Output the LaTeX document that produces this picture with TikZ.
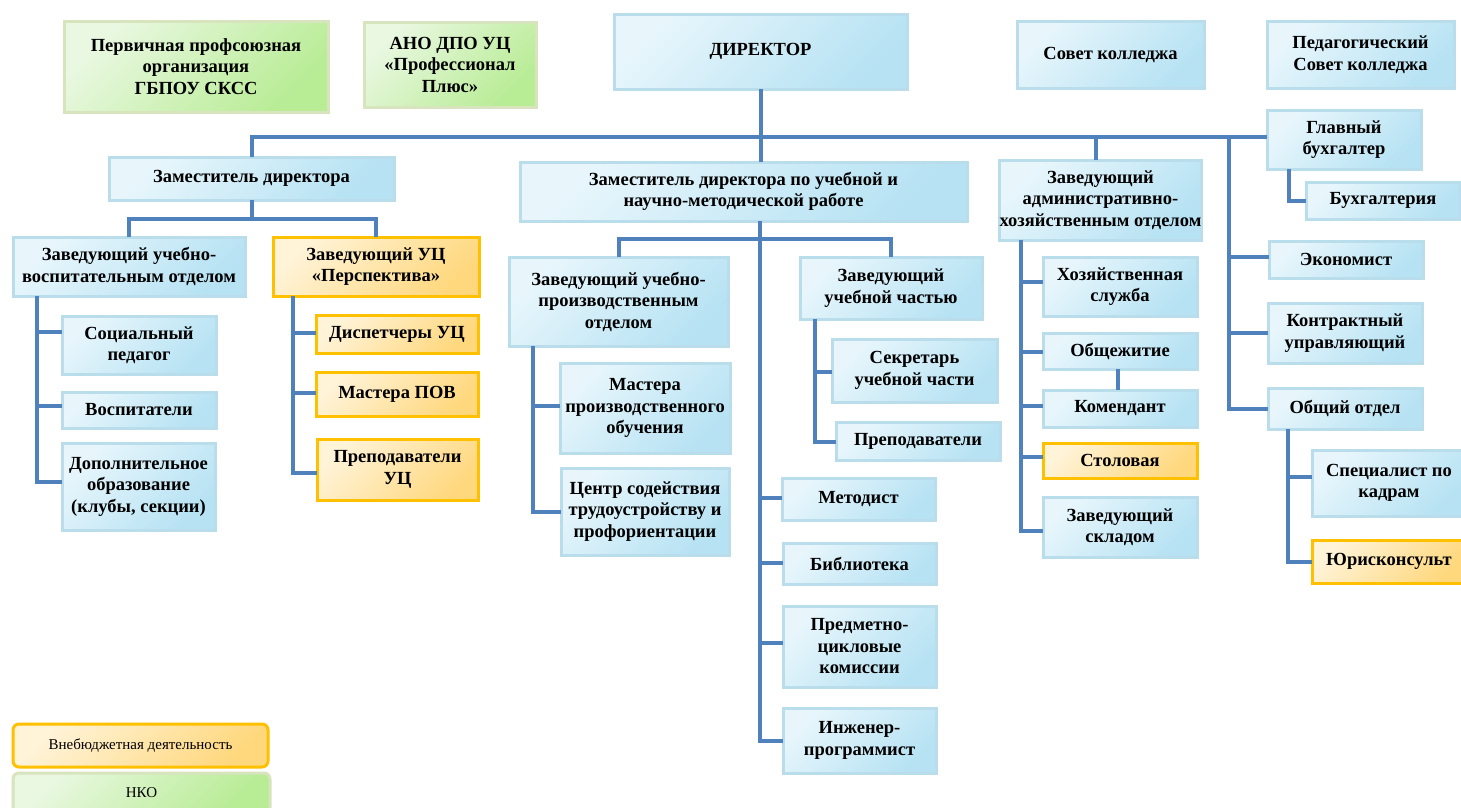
\documentclass[tikz,border=0pt]{standalone}
\usepackage{fontspec}
\setmainfont{Liberation Serif}
\definecolor{lineblue}{HTML}{4F81BD}
\definecolor{bA}{HTML}{E8F6FC}
\definecolor{bB}{HTML}{B6E2F3}
\definecolor{bD}{HTML}{B9DDEA}
\definecolor{oA}{HTML}{FFF3D8}
\definecolor{oB}{HTML}{FFD87E}
\definecolor{oD}{HTML}{FFC000}
\definecolor{gA}{HTML}{EAF8E2}
\definecolor{gB}{HTML}{B8EC95}
\definecolor{gD}{HTML}{D7E4BD}
\tikzset{
  boxbase/.style={inner sep=0pt, outer sep=0pt, align=center, line width=3pt, text=black,
    font=\bfseries\fontsize{18.5}{21.5}\selectfont},
  bluebox/.style={boxbase, draw=bD, top color=bA, bottom color=bB, shading angle=45},
  orangebox/.style={boxbase, draw=oD, top color=oA, bottom color=oB, shading angle=45},
  greenbox/.style={boxbase, draw=gD, top color=gA, bottom color=gB, shading angle=45},
  legendtext/.style={font=\mdseries\fontsize{15}{18}\selectfont, rounded corners=6pt},
  ln/.style={draw=lineblue, line width=4pt, line join=miter},
}
\newcommand\mybox[7]{%
  \pgfmathsetmacro\myW{#5-#3}\pgfmathsetmacro\myH{#6-#4}%
  \pgfmathsetmacro\myCX{(#3+#5)/2}\pgfmathsetmacro\myCY{(#4+#6)/2}%
  \node[#2, minimum width=\myW pt, minimum height=\myH pt] (#1) at (\myCX,\myCY) {#7};}
\newcommand\mybr[3]{\draw[ln] (#1 |- 0,#3) -- (#2.west |- 0,#3);}
\begin{document}
\begin{tikzpicture}[x=1pt,y=-1pt]
\useasboundingbox (0,0) rectangle (1461,807);
\fill[white] (0,0) rectangle (1461,807);
% top row
\mybox{pp}{greenbox}{64}{21}{328}{112}{Первичная профсоюзная\\организация\\ГБПОУ СКСС}
\mybox{ano}{greenbox}{364}{22}{536}{107}{АНО ДПО УЦ\\«Профессионал\\Плюс»}
\mybox{dir}{bluebox}{614}{14}{907}{89}{ДИРЕКТОР}
\mybox{sk}{bluebox}{1017}{21}{1204}{88}{Совет колледжа}
\mybox{ps}{bluebox}{1267}{21}{1454}{88}{Педагогический\\Совет колледжа}
% second level
\mybox{zd}{bluebox}{109}{157}{394}{200}{Заместитель директора}
\mybox{zu}{bluebox}{520}{162}{967}{221}{Заместитель директора по учебной и\\научно-методической работе}
\mybox{ax}{bluebox}{1004}{160}{1197}{240}{Заведующий\\административно-\\хозяйственным отделом}
\mybox{gb}{bluebox}{1267}{110}{1421}{169}{Главный\\бухгалтер}
\mybox{bu}{bluebox}{1306}{182}{1460}{219}{Бухгалтерия}
\mybox{ek}{bluebox}{1269}{241}{1423}{278}{Экономист}
\mybox{ku}{bluebox}{1268}{303}{1422}{363}{Контрактный\\управляющий}
\mybox{oo}{bluebox}{1268}{388}{1422}{429}{Общий отдел}
\mybox{sp2}{bluebox}{1312}{450}{1466}{516}{Специалист по\\кадрам}
\mybox{ur}{orangebox}{1312}{540}{1466}{583}{Юрисконсульт}
% left group
\mybox{uvo}{bluebox}{13}{237}{245}{296}{Заведующий учебно-\\воспитательным отделом}
\mybox{uc}{orangebox}{273}{237}{479}{296}{Заведующий УЦ\\«Перспектива»}
\mybox{sp}{bluebox}{62}{316}{216}{374}{Социальный\\педагог}
\mybox{vo}{bluebox}{62}{392}{216}{428}{Воспитатели}
\mybox{do}{bluebox}{62}{443}{215}{530}{Дополнительное\\образование\\(клубы, секции)}
\mybox{di}{orangebox}{316}{315}{478}{353}{Диспетчеры УЦ}
\mybox{mp}{orangebox}{316}{372}{478}{416}{Мастера ПОВ}
\mybox{pu}{orangebox}{317}{439}{478}{500}{Преподаватели\\УЦ}
% middle group
\mybox{upo}{bluebox}{509}{257}{728}{346}{Заведующий учебно-\\производственным\\отделом}
\mybox{uch}{bluebox}{800}{257}{982}{319}{Заведующий\\учебной частью}
\mybox{mpo}{bluebox}{560}{363}{730}{453}{Мастера\\производственного\\обучения}
\mybox{cs}{bluebox}{561}{468}{729}{555}{Центр содействия\\трудоустройству и\\профориентации}
\mybox{se}{bluebox}{832}{339}{997}{402}{Секретарь\\учебной части}
\mybox{pr}{bluebox}{836}{422}{1000}{460}{Преподаватели}
\mybox{me}{bluebox}{782}{478}{935}{520}{Методист}
\mybox{bi}{bluebox}{783}{543}{936}{584}{Библиотека}
\mybox{pc}{bluebox}{783}{606}{936}{687}{Предметно-\\цикловые\\комиссии}
\mybox{ip}{bluebox}{783}{708}{936}{773}{Инженер-\\программист}
% AHO group
\mybox{hs}{bluebox}{1043}{257}{1197}{316}{Хозяйственная\\служба}
\mybox{ob}{bluebox}{1043}{333}{1197}{369}{Общежитие}
\mybox{ko}{bluebox}{1043}{390}{1197}{427}{Комендант}
\mybox{st}{orangebox}{1043}{443}{1197}{478}{Столовая}
\mybox{zs}{bluebox}{1043}{497}{1197}{557}{Заведующий\\складом}
% legend
\mybox{lg1}{orangebox,legendtext}{13}{724}{268}{767}{Внебюджетная деятельность}
\mybox{lg2}{greenbox,legendtext}{13}{773}{270}{813}{НКО}
% connectors
\coordinate (bus) at (0,137);
\draw[ln] (zd.north) |- (gb.west |- bus);
\draw[ln] (dir.south) -- (dir.south |- zu.north);
\draw[ln] ([xshift=-5pt]ax.north) -- ([xshift=-5pt]ax.north |- bus);
% right column
\coordinate (rc) at (1229,137);
\draw[ln] (rc) |- (oo.west);
\mybr{rc}{ek}{257}
\mybr{rc}{ku}{333}
\coordinate (gbt) at (1289,169);
\draw[ln] (gbt) |- (bu.west);
\coordinate (oot) at (1288,429);
\draw[ln] (oot) |- (ur.west);
\mybr{oot}{sp2}{477}
% deputy director
\draw[ln] (zd.south) -- ++(0,19);
\draw[ln] (uvo.north) -- ++(0,-18) -| (uc.north);
\coordinate (uvt) at (37,296);
\draw[ln] (uvt) |- (do.west |- 0,482) -- (do.west |- 0,482);
\mybr{uvt}{sp}{332}
\mybr{uvt}{vo}{406}
\coordinate (uct) at (293,296);
\draw[ln] (uct) |- (pu.west |- 0,473);
\mybr{uct}{di}{333}
\mybr{uct}{mp}{393}
% educational deputy
\coordinate (cv) at (760,221);
\draw[ln] (cv) |- (ip.west);
\draw[ln] (upo.north) -- ++(0,-18) -| (uch.north);
\mybr{cv}{me}{498}
\mybr{cv}{bi}{563}
\mybr{cv}{pc}{643}
\coordinate (upt) at (533,346);
\draw[ln] (upt) |- (cs.west |- 0,512);
\mybr{upt}{mpo}{406}
\coordinate (ucht) at (815,319);
\draw[ln] (ucht) |- (pr.west |- 0,442);
\mybr{ucht}{se}{372}
% AHO
\coordinate (axt) at (1021,240);
\draw[ln] (axt) |- (zs.west |- 0,531);
\mybr{axt}{hs}{282}
\mybr{axt}{ob}{352}
\mybr{axt}{ko}{406}
\mybr{axt}{st}{457}
\draw[ln] ([xshift=-2pt]ob.south) -- ([xshift=-2pt]ko.north);
\end{tikzpicture}
\end{document}
